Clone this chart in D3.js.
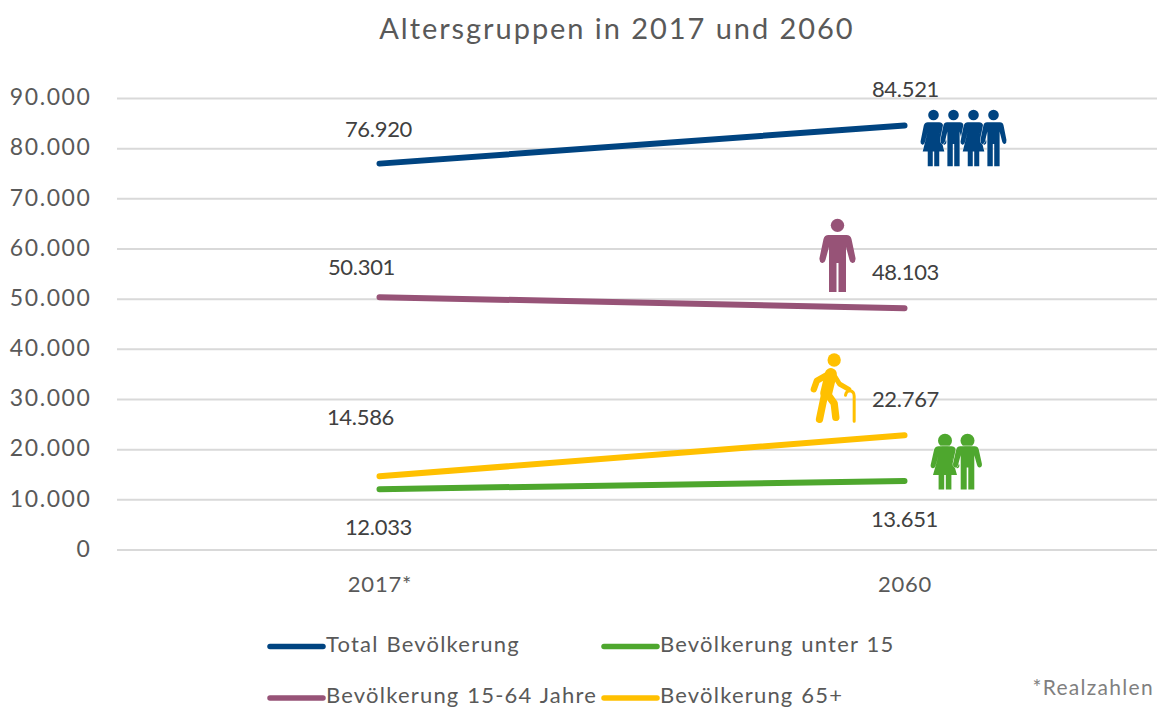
<!DOCTYPE html>
<html><head><meta charset="utf-8">
<script src="https://cdn.jsdelivr.net/npm/d3@7/dist/d3.min.js"></script>
<style>
html,body{margin:0;padding:0;background:#fff;overflow:hidden}
text{font-family:Lato,"Open Sans",sans-serif}
</style></head><body>
<svg id="c" width="1157" height="708"></svg>
<script>
const titleText = "Altersgruppen in 2017 und 2060";
const categories = ["2017*", "2060"];
const yTicks = [0,10000,20000,30000,40000,50000,60000,70000,80000,90000];
const totalValues = [76920, 84521];
const youngValues = [12033, 13651];
const middleValues = [50301, 48103];
const oldValues = [14586, 22767];
const seriesNames = ["Total Bevölkerung","Bevölkerung unter 15","Bevölkerung 15-64 Jahre","Bevölkerung 65+"];
const seriesColors = ["#004481","#4ea72e","#975377","#ffc000"];
const noteText = "*Realzahlen";

const svg = d3.select("#c");
const x = d3.scalePoint().domain(categories).range([117,1167]).padding(0.5);
const y = d3.scaleLinear().domain([0,90000]).range([549.5,98]);
const de = d3.formatLocale({decimal:",",thousands:".",grouping:[3],currency:["",""]});
const fmt = de.format(",d");
const FONT = 'Lato,"Open Sans",sans-serif';

svg.append("text").attr("x",617).attr("y",39).attr("text-anchor","middle")
  .attr("font-size",29).attr("letter-spacing",1.95).attr("fill","#595959").text(titleText);

const gy = svg.append("g").attr("transform","translate(117,0)")
  .call(d3.axisLeft(y).tickValues(yTicks).tickFormat(fmt).tickSize(-1040).tickPadding(25.5));
gy.select(".domain").remove();
gy.selectAll("line").attr("stroke","#d9d9d9").attr("stroke-width",2);
gy.selectAll("text").attr("font-size",23).attr("font-family",FONT).attr("letter-spacing",1.6).attr("fill","#595959").attr("dy","0.29em");

const gx = svg.append("g").attr("transform","translate(0,550)")
  .call(d3.axisBottom(x).tickSize(0).tickPadding(26));
gx.select(".domain").remove();
gx.selectAll("text").attr("font-size",22).attr("font-family",FONT).attr("letter-spacing",0.8).attr("fill","#595959");

// white patch behind the green icon, as in the source image
svg.append("rect").attr("x",x("2060")+19).attr("y",y(17500)).attr("width",58).attr("height",y(10300)-y(17500)).attr("fill","#fff");

const line = d3.line().x((d,i)=>x(categories[i])).y(d=>y(d));
const series = [totalValues,youngValues,middleValues,oldValues];
svg.append("g").selectAll("path").data(series).join("path")
  .attr("d",line).attr("fill","none").attr("stroke-width",6).attr("stroke-linecap","round")
  .attr("stroke",(d,i)=>seriesColors[i]);

// value labels: [series, category index, dx, dy]
const labelOffsets = [
 [totalValues,0,-1,-27],[totalValues,1,1,-28],
 [middleValues,0,-18,-22],[middleValues,1,1,-28],
 [oldValues,0,-19,-51],[oldValues,1,1,-28],
 [youngValues,0,-1,46],[youngValues,1,0,46]
];
svg.append("g").selectAll("text").data(labelOffsets).join("text")
  .attr("x",d=>x(categories[d[1]])+d[2]).attr("y",d=>y(d[0][d[1]])+d[3])
  .attr("text-anchor","middle").attr("font-size",22).attr("letter-spacing",-0.3).attr("fill","#404040")
  .text(d=>fmt(d[0][d[1]]));

// Icons (pictograms)
const manPath = "M-9,16L9,16Q13,16 14,20L18,39Q18.5,43 15.5,44Q13,44.5 12,41L8.5,28L8.5,73L1,73L1,44L-1,44L-1,73L-8.5,73L-8.5,28L-12,41Q-13,44.5 -15.5,44Q-18.5,43 -18,39L-14,20Q-13,16 -9,16Z";
const womanPath = "M-8,16L8,16Q12,16 13.5,20L18,41Q18.5,44 15.5,45Q13,45.5 12,42L8,28L15,54L8,54L8,73L1,73L1,54L-1,54L-1,73L-8,73L-8,54L-15,54L-8,28L-12,42Q-13,45.5 -15.5,45Q-18.5,44 -18,41L-13.5,20Q-12,16 -8,16Z";
function person(g,kind,cx,top,sx,sy,r,color,gap){
  const p = g.append("g").attr("fill",color);
  p.append("circle").attr("cx",cx).attr("cy",top+r*0.95).attr("r",r);
  p.append("path").attr("transform",`translate(${cx},${top}) scale(${sx},${sy})`)
    .attr("d",kind==="m"?manPath:womanPath)
    .attr("stroke",gap?"#fff":"none").attr("stroke-width",gap?1.2:0).attr("paint-order","stroke");
}
const icons = svg.append("g");
const x2 = x("2060");
[["w",29],["m",49],["w",69],["m",89]].forEach(d=>person(icons,d[0],x2+d[1],110,0.72,0.77,5.3,seriesColors[0],true));
person(icons,"m",x2-67,219,1,1,6.7,seriesColors[2],false);
person(icons,"w",x2+40.5,434,0.8,0.76,7,seriesColors[1],true);
person(icons,"m",x2+63,434,0.8,0.76,7,seriesColors[1],true);

// walking elder with cane
const elder = icons.append("g").attr("transform",`translate(${x2-115},340) scale(${1/3})`).attr("fill","none").attr("stroke",seriesColors[3]).attr("stroke-linecap","round").attr("stroke-linejoin","round");
elder.append("circle").attr("cx",134).attr("cy",60).attr("r",20).attr("fill",seriesColors[3]).attr("stroke","none");
elder.append("path").attr("d","M118,102L82,122L73,148").attr("stroke-width",19);
elder.append("path").attr("d","M124,102L110,160").attr("stroke-width",36);
elder.append("path").attr("d","M130,100L150,132L178,148").attr("stroke-width",15);
elder.append("path").attr("d","M104,170L90,238").attr("stroke-width",22);
elder.append("path").attr("d","M116,165L134,190L139,232").attr("stroke-width",22);
elder.append("path").attr("d","M168,166Q170,152 182,152Q194,154 194,168L194,244").attr("stroke-width",9);

// Legend
const legendPos = [[268,646.5],[602,646.5],[268,698],[602,698]];
const lg = svg.append("g").selectAll("g").data(seriesNames).join("g")
  .attr("transform",(d,i)=>`translate(${legendPos[i][0]},${legendPos[i][1]})`);
lg.append("line").attr("x1",2).attr("x2",55).attr("stroke-width",5.5).attr("stroke-linecap","round")
  .attr("stroke",(d,i)=>seriesColors[i]);
lg.append("text").attr("x",58).attr("y",5).attr("font-size",22).attr("letter-spacing",1.2).attr("word-spacing",1).attr("fill","#595959").text(d=>d);

svg.append("text").attr("x",1154).attr("y",695).attr("text-anchor","end").attr("font-size",21)
  .attr("letter-spacing",1.3).attr("fill","#7f7f7f").text(noteText);
</script></body></html>
